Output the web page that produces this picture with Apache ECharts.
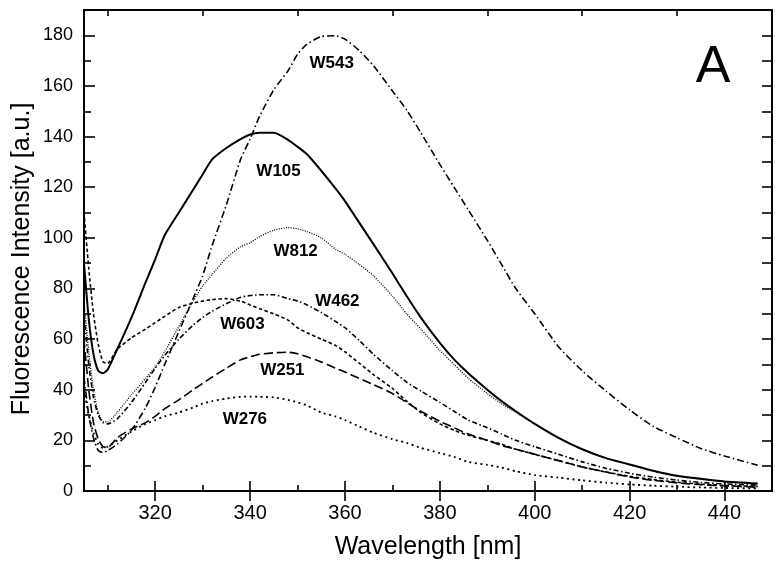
<!DOCTYPE html>
<html>
<head>
<meta charset="utf-8">
<script src="https://cdn.jsdelivr.net/npm/echarts@6/dist/echarts.min.js"></script>
<style>html,body{margin:0;padding:0;background:#fff}#c{width:784px;height:571px}</style>
</head>
<body>
<div id="c"></div>
<script>
const wavelength = [305,306,307,308,309,310,312,315,318,320,322,325,328,330,332,335,338,340,342,345,348,350,352,355,358,360,363,366,370,373,376,380,383,386,390,393,396,400,405,410,415,420,425,430,435,440,447];

const W105 = [90,68,54,47.5,46.5,48,56,68.5,82.5,91.5,101,110,119,125,131,135.5,139,140.8,141.5,141.5,138.7,136,133,126.5,119.5,114.5,106,97.5,86,77,68.5,58.5,52,46.5,40,35.5,31.5,26.5,21,16.5,13,10.5,8,6,4.8,3.8,3];
const W543 = [45,30,21,16,15.2,16,18.5,24,33,41,50,63,76,85,97,113,131,139,148,158.5,166,172.5,176.5,179.5,179.8,178.5,174,168,158,150.5,141.5,129,120,111,99,89.5,80,70,57,47.5,39.5,32,25.5,21,16.8,13.8,10.2];
const W812 = [75,55,40,31,27.5,27.3,31,38,44.5,49,55,65,75,81,85.5,92,96.5,98,100.5,103,104,103.6,102.5,100,95.5,93.5,89.5,85,77,70,64,55.5,50,44.5,38.5,34.5,31,26.5,21,16.5,13,10.3,7.8,5.8,4.6,3.6,2.8];
const W462 = [70,50,37,30,27,26.5,28.5,35,43,48.5,53.5,60,65.5,68.5,71,74,76.5,77.2,77.5,77.5,76,75,73.5,70.5,67,64.5,59.5,54,47.5,43,39.5,35,31.5,28,25,22.5,20,17.5,14.5,11.5,9,7,5.5,4.3,3.4,2.8,2.3];
const W603 = [110,88,70,58,51,50.5,56,60.5,64,66.5,69,72.5,74.2,75,75.6,76,75,73.5,72,70,67.5,64.5,62.5,60,57.5,55,50.5,46,40.5,35.5,31,26.5,24,22,20,18.5,16.5,14.5,12,9.5,7.5,5.8,4.5,3.5,2.7,2.2,1.8];
const W251 = [60,40,27,20.5,17.5,17.2,21,24.5,27,29.5,32.5,36,40,42.5,45,48.5,51.8,53,54,54.6,54.8,54.2,53,51,48.5,47,44.5,42,38.5,35,31.5,27.5,25,22.5,20,18,16.5,14.5,12,9.5,7.5,5.5,4.2,3.2,2.5,2,1.5];
const W276 = [40,30,23,18.5,17,17.5,20,23.5,26.5,28,29.5,31,33,34.5,35.5,36.5,37.2,37.3,37.2,37,36,35,33.8,31,29.5,28,25.5,23,20.5,19,17,15,13.5,11.5,10.3,9.3,7.8,6.3,5.3,4.2,3.3,2.6,2.1,1.7,1.4,1.2,1];

const seriesNames = ['W105','W543','W812','W462','W603','W251','W276'];
const seriesValues = [W105,W543,W812,W462,W603,W251,W276];
const labelAt = [[346,126.2],[357.2,168.9],[349.6,94.5],[358.4,75],[338.4,65.9],[346.8,47.7],[338.9,28.3]];

const xMajor = [320,340,360,380,400,420,440];
const xMinor = [310,330,350,370,390,410,430,450];
const yMajor = [0,20,40,60,80,100,120,140,160,180];
const yMinor = [10,30,50,70,90,110,130,150,170];
const yRight = [10,20,30,40,50,60,70,80,90,100,110,120,130,140,150,160,170,180];

const styles = [
  {type:'solid', width:2},
  {type:[7,3,1.5,3], width:1.6},
  {type:[1,1.4], width:1.3},
  {type:[5,2.5,1.5,2.5], width:1.6},
  {type:[3.5,2.5], width:1.6},
  {type:[9,4], width:1.6},
  {type:[2,3.5], width:1.8}
];

const FONT = '"Liberation Sans", Arial, sans-serif';
const chart = echarts.init(document.getElementById('c'), null, {renderer:'canvas'});

function xAx(pos, vals, len, labels, extra) {
  return Object.assign({
    type:'value', position:pos, min:305, max:450,
    axisLine:{show:true, lineStyle:{color:'#000', width:2}},
    axisTick:{show:true, inside:true, length:len, customValues:vals, lineStyle:{color:'#000', width:1.6}},
    axisLabel:{show:labels, customValues:vals, color:'#000', fontSize:20, fontFamily:FONT, margin:12},
    splitLine:{show:false}
  }, extra||{});
}
function yAx(pos, vals, len, labels) {
  return {
    type:'value', position:pos, min:0, max:190,
    axisLine:{show:true, lineStyle:{color:'#000', width:2}},
    axisTick:{show:true, inside:true, length:len, customValues:vals, lineStyle:{color:'#000', width:1.6}},
    axisLabel:{show:labels, customValues:vals, color:'#000', fontSize:18, fontFamily:FONT, margin:11},
    splitLine:{show:false}
  };
}

chart.setOption({
  animation:false,
  backgroundColor:'#fff',
  grid:{left:84, top:10, right:12, bottom:80, containLabel:false},
  xAxis:[
    xAx('bottom', xMajor, 10, true, {name:'Wavelength [nm]', nameLocation:'middle', nameGap:44, nameTextStyle:{fontSize:25, color:'#000', fontFamily:FONT}}),
    xAx('bottom', xMinor, 6, false),
    xAx('top', xMajor, 10, false),
    xAx('top', xMinor, 6, false)
  ],
  yAxis:[
    yAx('left', yMajor, 11, true),
    yAx('left', yMinor, 7, false),
    yAx('right', yRight, 10, false)
  ],
  graphic:[
    {type:'text', x:22, y:259, rotation:Math.PI/2, style:{text:'Fluorescence Intensity [a.u.]', font:'25px '+FONT, fill:'#000', textAlign:'center', textVerticalAlign:'middle'}},
    {type:'text', x:713, y:68, style:{text:'A', font:'52px '+FONT, fill:'#000', textAlign:'center', textVerticalAlign:'middle'}}
  ],
  series: seriesNames.map((n,i)=>({
    name:n, type:'line', xAxisIndex:0, yAxisIndex:0, symbol:'none', smooth:0.2,
    data: wavelength.map((w,j)=>[w, seriesValues[i][j]]),
    lineStyle:Object.assign({color:'#000'}, styles[i]),
    markPoint:{symbol:'circle', symbolSize:0, silent:true,
      data:[{coord:labelAt[i], value:n}],
      label:{show:true, position:'inside', formatter:n, color:'#000', fontSize:17, fontWeight:'bold', fontFamily:FONT}}
  }))
});
</script>
</body>
</html>
